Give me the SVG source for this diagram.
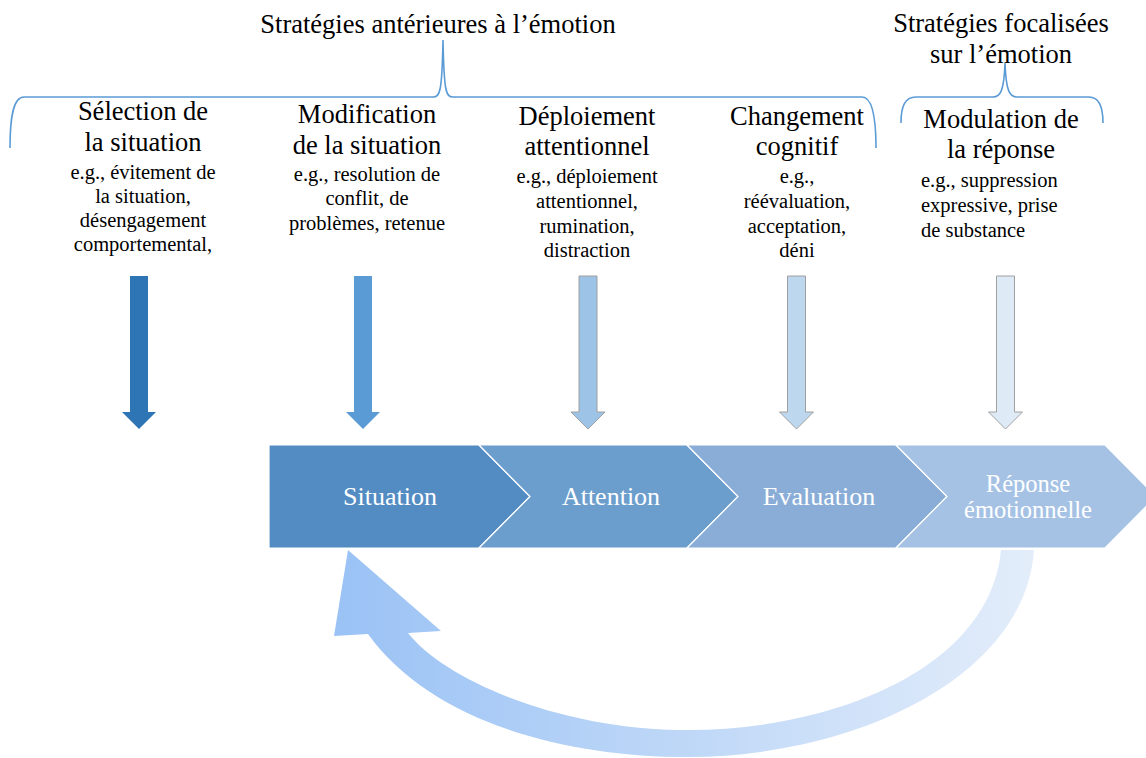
<svg xmlns="http://www.w3.org/2000/svg" width="1146" height="758" viewBox="0 0 1146 758">
<style>
text{font-family:"Liberation Serif","Times New Roman",serif;fill:#000}
.h{font-size:26.5px;text-anchor:middle}
.s{font-size:20.5px;text-anchor:middle}
.sl{font-size:20.5px}
.c{font-size:26px;text-anchor:middle;fill:#fff}
.c2{font-size:24.5px;text-anchor:middle;fill:#fff}
.brace{fill:none;stroke:#5B9BD5;stroke-width:1.6}
.sep{stroke:#fff;stroke-width:1.2}
</style>
<defs>
<path id="barrow" d="M-9,0 L9,0 L9,136 L17,136 L0,153 L-17,136 L-9,136 Z"/>
<linearGradient id="loopg" gradientUnits="userSpaceOnUse" x1="334" y1="0" x2="1034" y2="0">
<stop offset="0" stop-color="#9AC2F5"/>
<stop offset="1" stop-color="#E3EDFA"/>
</linearGradient>
</defs>
<rect width="1146" height="758" fill="#fff"/>

<g id="titles">
<text class="h" x="438" y="33">Stratégies antérieures à l’émotion</text>
<text class="h" x="1001" y="32">Stratégies focalisées</text>
<text class="h" x="1001" y="63">sur l’émotion</text>
</g>

<g id="braces">
<path class="brace" d="M10,148 C10,118 13,97 24,97 L433,97 C440,97 442,92 443,40 C444,92 446,97 453,97 L862,97 C872,97 876,118 876,148"/>
<path class="brace" d="M901,123 C901,106 905,97 916,97 L993,97 C1000,97 1004,92 1005,63 C1006,92 1010,97 1017,97 L1089,97 C1099,97 1103,106 1103,123"/>
</g>

<g id="col1">
<text class="h" x="143" y="120">Sélection de</text>
<text class="h" x="143" y="151">la situation</text>
<text class="s" x="143" y="179">e.g., évitement de</text>
<text class="s" x="143" y="203">la situation,</text>
<text class="s" x="143" y="227">désengagement</text>
<text class="s" x="143" y="251">comportemental,</text>
</g>
<g id="col2">
<text class="h" x="367" y="123">Modification</text>
<text class="h" x="367" y="154">de la situation</text>
<text class="s" x="367" y="181">e.g., resolution de</text>
<text class="s" x="367" y="205">conflit, de</text>
<text class="s" x="367" y="230">problèmes, retenue</text>
</g>
<g id="col3">
<text class="h" x="587" y="125">Déploiement</text>
<text class="h" x="587" y="155">attentionnel</text>
<text class="s" x="587" y="183">e.g., déploiement</text>
<text class="s" x="587" y="208">attentionnel,</text>
<text class="s" x="587" y="233">rumination,</text>
<text class="s" x="587" y="257">distraction</text>
</g>
<g id="col4">
<text class="h" x="797" y="125">Changement</text>
<text class="h" x="797" y="155">cognitif</text>
<text class="s" x="797" y="183">e.g.,</text>
<text class="s" x="797" y="208">réévaluation,</text>
<text class="s" x="797" y="233">acceptation,</text>
<text class="s" x="797" y="257">déni</text>
</g>
<g id="col5">
<text class="h" x="1001" y="128">Modulation de</text>
<text class="h" x="1001" y="158">la réponse</text>
<text class="sl" x="921" y="187">e.g., suppression</text>
<text class="sl" x="921" y="212">expressive, prise</text>
<text class="sl" x="921" y="237">de substance</text>
</g>

<g id="down-arrows">
<use href="#barrow" transform="translate(139,276)" fill="#2E75B6"/>
<use href="#barrow" transform="translate(363,276)" fill="#5B9BD5"/>
<use href="#barrow" transform="translate(588,276)" fill="#9DC3E6" stroke="#A0A0A0" stroke-width="1"/>
<use href="#barrow" transform="translate(796.5,276)" fill="#BDD7EE" stroke="#A0A0A0" stroke-width="1"/>
<use href="#barrow" transform="translate(1005.5,276)" fill="#DEEBF7" stroke="#A0A0A0" stroke-width="1"/>
</g>

<g id="process">
<path class="sep" fill="#538CC2" d="M269,445 L479,445 L530,496.5 L479,548 L269,548 Z"/>
<path class="sep" fill="#6C9ECD" d="M479,445 L687,445 L738,496.5 L687,548 L479,548 L530,496.5 Z"/>
<path class="sep" fill="#89ADD7" d="M687,445 L896,445 L947,496.5 L896,548 L687,548 L738,496.5 Z"/>
<path class="sep" fill="#A5C2E5" d="M896,445 L1105,445 L1156,496.5 L1105,548 L896,548 L947,496.5 Z"/>
<text class="c" x="390" y="505">Situation</text>
<text class="c" x="611" y="505">Attention</text>
<text class="c" x="819" y="505">Evaluation</text>
<text class="c2" x="1028" y="492">Réponse</text>
<text class="c2" x="1028" y="518">émotionnelle</text>
</g>

<g id="connectors">
<path fill="url(#loopg)" d="M1034,550 C1025,680 850,757 688,757 C560,757 430,720 368,634 L334,636 L348,550 L441,631 L408,633 C445,680 560,730 688,730 C830,730 990,670 1001,550 Z"/>
</g>
</svg>
